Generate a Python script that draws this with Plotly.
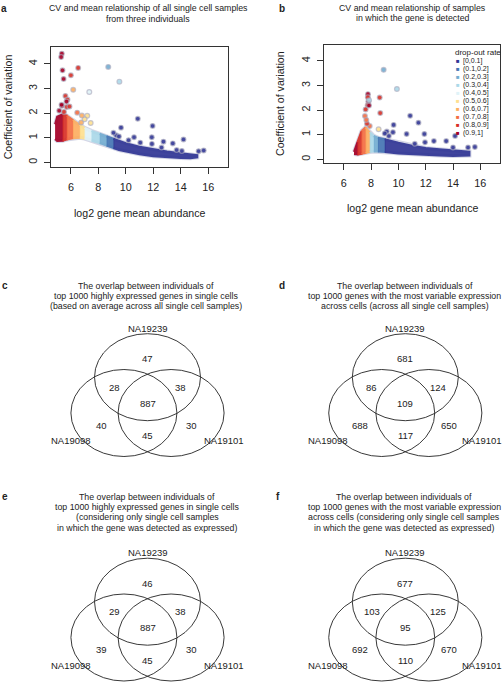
import plotly.graph_objects as go

W, H = 504, 685
FONT = "Liberation Sans, Arial, Helvetica, sans-serif"

# ---------------- data ----------------
BIN_LABELS = ["[0,0.1]", "(0.1,0.2]", "(0.2,0.3]", "(0.3,0.4]", "(0.4,0.5]",
              "(0.5,0.6]", "(0.6,0.7]", "(0.7,0.8]", "(0.8,0.9]", "(0.9,1]"]
BIN_COLORS = ["#313695", "#4575B4", "#74ADD1", "#ABD9E9", "#E0F3F8",
              "#FEE090", "#FDAE61", "#F46D43", "#D73027", "#A50026"]

# panel a: dense cloud of genes (edges of the band)
a_band_x = [4.85, 5.0, 5.4, 5.7, 6.15, 6.65, 7.0, 7.5, 8.1, 8.6, 9.1, 9.5, 10, 11, 12, 13, 14, 14.7, 15.2]
a_band_top = [1.55, 1.85, 1.95, 1.9, 1.72, 1.52, 1.4, 1.28, 1.16, 1.06, 0.96, 0.88, 0.78, 0.63, 0.52, 0.44, 0.37, 0.33, 0.29]
a_band_bottom = [0.95, 0.87, 0.88, 0.93, 0.98, 1.0, 0.97, 0.88, 0.78, 0.68, 0.58, 0.5, 0.43, 0.33, 0.25, 0.21, 0.18, 0.17, 0.2]
a_band_bin = [9, 9, 8, 7, 6, 5, 4, 3, 2, 1, 0, 0, 0, 0, 0, 0, 0, 0]
# panel a: scattered genes
a_pts_x = [10.87, 11.95, 9.65, 11.89, 10.6, 12.74, 13.42, 14.2, 11.9, 11.05, 14.08, 15.3, 15.67, 9.3, 9.1, 9.5, 10.2, 12.6, 13.7,
           8.72, 9.53, 7.34,
           5.34, 5.29, 5.39, 6.53, 5.47, 6.0, 6.17, 5.6, 5.75, 5.35, 5.7, 5.32, 5.68, 5.9, 6.46, 7.19, 7.44, 6.75, 7.0, 6.8, 5.15, 5.5]
a_pts_cv = [1.77, 1.48, 1.41, 1.02, 1.02, 0.84, 0.77, 0.93, 0.75, 0.8, 0.46, 0.45, 0.48, 1.1, 1.2, 1.05, 0.9, 0.6, 0.5,
            3.88, 3.28, 2.86,
            4.42, 4.28, 3.74, 3.84, 3.39, 3.54, 2.95, 2.7, 2.55, 2.3, 2.25, 2.34, 2.47, 2.27, 2.02, 1.89, 1.6, 1.62, 1.75, 1.9, 2.1, 2.05]
a_pts_bin = [0] * 19 + [2, 3, 4] + [9, 9, 9, 8, 9, 8, 6, 8, 8, 9, 8, 9, 9, 8, 7, 5, 5, 6, 5, 6, 9, 8]

# panel b
b_band_x = [6.75, 7.0, 7.3, 7.6, 7.9, 8.2, 8.5, 9.0, 9.5, 10, 11, 12, 13, 14, 14.7, 15.2]
b_band_top = [0.3, 0.7, 1.15, 1.3, 1.1, 0.95, 0.88, 0.82, 0.74, 0.67, 0.55, 0.46, 0.41, 0.37, 0.34, 0.31]
b_band_bottom = [0.22, 0.2, 0.22, 0.26, 0.3, 0.32, 0.32, 0.3, 0.27, 0.24, 0.2, 0.17, 0.15, 0.13, 0.13, 0.15]
b_band_bin = [9, 8, 7, 6, 3, 2, 1, 0, 0, 0, 0, 0, 0, 0, 0]
b_pts_x = [10.86, 11.47, 9.65, 9.15, 10.6, 11.9, 14.15, 12.6, 13.5, 11.2, 11.95, 14.0, 15.1, 15.6, 9.6, 9.3, 9.0,
           8.92, 9.89,
           7.77, 7.76, 7.8, 8.63, 7.75, 7.85, 7.6, 7.55, 8.67, 7.85, 7.9, 8.55, 7.7, 7.65]
b_pts_cv = [1.77, 1.49, 1.4, 1.13, 1.03, 1.03, 0.95, 0.74, 0.74, 0.63, 0.69, 0.48, 0.48, 0.5, 1.1, 0.95, 1.05,
            3.64, 2.86,
            2.65, 2.52, 2.35, 2.51, 2.2, 2.4, 2.03, 1.76, 1.88, 2.19, 1.35, 1.22, 1.45, 1.6]
b_pts_bin = [0] * 17 + [2, 3] + [9, 8, 9, 8, 8, 3, 8, 7, 8, 9, 7, 5, 8, 7]

# Venn diagrams: regions [A only, A&B, A&C, A&B&C, B only, B&C, C only]
VENN_SETS = ["NA19239", "NA19098", "NA19101"]
venn_c = [47, 28, 38, 887, 40, 45, 30]
venn_d = [681, 86, 124, 109, 688, 117, 650]
venn_e = [46, 29, 38, 887, 39, 45, 30]
venn_f = [677, 103, 125, 95, 692, 110, 670]

# ---------------- helpers ----------------
def px(x):
    return x / W

def py(y):
    return 1 - y / H

fig = go.Figure()
annotations = []
shapes = []


def add_band(xax, yax, bx, top, bot, bins):
    # faint halo around the whole cloud (point outlines in the original)
    fig.add_trace(go.Scatter(
        x=bx + bx[::-1], y=top + bot[::-1], mode="lines",
        line=dict(color="rgba(160,165,200,0.45)", width=4),
        xaxis=xax, yaxis=yax, showlegend=False, hoverinfo="skip"))
    i = 0
    n = len(bins)
    while i < n:
        j = i
        while j + 1 < n and bins[j + 1] == bins[i]:
            j += 1
        xs = bx[i:j + 2]
        ys_top = top[i:j + 2]
        ys_bot = bot[i:j + 2]
        col = BIN_COLORS[bins[i]]
        fig.add_trace(go.Scatter(
            x=xs + xs[::-1], y=ys_top + ys_bot[::-1], mode="lines",
            fill="toself", fillcolor=col, line=dict(color=col, width=2),
            opacity=0.92, xaxis=xax, yaxis=yax, showlegend=False, hoverinfo="skip"))
        i = j + 1


def add_points(xax, yax, xs, cvs, bins):
    fig.add_trace(go.Scatter(
        x=xs, y=cvs, mode="markers", xaxis=xax, yaxis=yax, showlegend=False,
        marker=dict(size=4.8, color=[BIN_COLORS[b] for b in bins], opacity=0.9,
                    line=dict(color="rgba(170,170,190,0.7)", width=1.2))))


add_band("x", "y", a_band_x, a_band_top, a_band_bottom, a_band_bin)
add_points("x", "y", a_pts_x, a_pts_cv, a_pts_bin)
add_band("x2", "y2", b_band_x, b_band_top, b_band_bottom, b_band_bin)
add_points("x2", "y2", b_pts_x, b_pts_cv, b_pts_bin)

axis_common = dict(showgrid=False, zeroline=False, showline=True, mirror=True,
                   linecolor="#333333", linewidth=1, ticks="outside", ticklen=6,
                   tickcolor="#333333", tickfont=dict(size=10.8, family=FONT, color="#222"))

layout = dict(
    width=W, height=H, margin=dict(l=0, r=0, t=0, b=0),
    paper_bgcolor="white", plot_bgcolor="white", showlegend=False,
    font=dict(family=FONT, color="#222"),
    xaxis=dict(domain=[px(50.7), px(228)], range=[4.53, 17.44], tickvals=[6, 8, 10, 12, 14, 16],
               anchor="y", ticklabelstandoff=4, **axis_common),
    yaxis=dict(domain=[py(167), py(47)], range=[-0.19, 4.69], tickvals=[0, 1, 2, 3, 4],
               tickangle=-90, anchor="x", ticklabelstandoff=2, **axis_common),
    xaxis2=dict(domain=[px(323.7), px(500)], range=[4.53, 17.44], tickvals=[6, 8, 10, 12, 14, 16],
                anchor="y2", ticklabelstandoff=4, **axis_common),
    yaxis2=dict(domain=[py(163), py(45)], range=[-0.15, 4.65], tickvals=[0, 1, 2, 3, 4],
                tickangle=-90, anchor="x2", ticklabelstandoff=2, **axis_common),
)

TITLE_SIZE = 8.8

# ---------------- text for scatter panels ----------------
def ann(x, y, text, size=TITLE_SIZE, xanchor="center", color="#222", bold=False, angle=0, pad=1):
    if bold:
        text = "<b>" + text + "</b>"
    annotations.append(dict(x=px(x), y=py(y), xref="paper", yref="paper", text=text,
                            showarrow=False, xanchor=xanchor, yanchor="middle", textangle=angle,
                            borderpad=pad,
                            font=dict(size=size, family=FONT, color=color)))

ann(4, 8, "a", size=10, bold=True)
ann(148, 8.3, "CV and mean relationship of all single cell samples")
ann(148, 18.8, "from three individuals")
ann(139.3, 212.7, "log2 gene mean abundance", size=10.6)
ann(8.3, 107, "Coefficient of variation", size=10.6, angle=-90)

ann(282, 8, "b", size=10, bold=True)
ann(412.5, 7.5, "CV and mean relationship of samples")
ann(412.5, 18.3, "in which the gene is detected")
ann(412, 208.3, "log2 gene mean abundance", size=10.6)
ann(280, 104, "Coefficient of variation", size=10.6, angle=-90)

# drop-out rate legend
ann(502, 52.3, "drop-out rate", size=8, xanchor="right", pad=0)
for k, (lab, col) in enumerate(zip(BIN_LABELS, BIN_COLORS)):
    yy = 61 + 8 * k
    ann(460.5, yy, "■", size=6, color=col, xanchor="right", pad=0)
    ann(462, yy, lab, size=7, xanchor="left", pad=0)

# ---------------- Venn diagrams ----------------
SX, SY = 53.0, 43.5
CIRCLE_CENTERS = [(0.0, 0.0), (-0.445, -0.823), (0.445, -0.823)]
REGION_POS = [(0.0, 0.42), (-0.63, -0.23), (0.62, -0.23), (0.0, -0.6),
              (-0.86, -1.1), (0.0, -1.35), (0.83, -1.1)]
SET_LABEL_POS = [(0.0, 1.12), (-1.45, -1.46), (1.44, -1.46)]
XR, YR = (-1.85, 1.85), (-1.9, 1.3)

venn_panels = [
    ("c", venn_c, 147.5, 377.2, 5, 285.5,
     ["The overlap between individuals of",
      "top 1000 highly expressed genes in single cells",
      "(based on average across all single cell samples)"], 146),
    ("d", venn_d, 405.3, 377.2, 282, 285.5,
     ["The overlap between individuals of",
      "top 1000 genes with the most variable expression",
      "across cells (across all single cell samples)"], 404.5),
    ("e", venn_e, 147.5, 601.7, 5, 496.5,
     ["The overlap between individuals of",
      "top 1000 highly expressed genes in single cells",
      "(considering only single cell samples",
      "in which the gene was detected as expressed)"], 147),
    ("f", venn_f, 405.3, 601.7, 278, 496.5,
     ["The overlap between individuals of",
      "top 1000 genes with the most variable expression",
      "across cells (considering only single cell samples",
      "in which the gene was detected as expressed)"], 404),
]

for idx, (letter, counts, cx, cy, lx, ty, lines, tx) in enumerate(venn_panels):
    n = idx + 3
    xa, ya = "x%d" % n, "y%d" % n
    layout["xaxis%d" % n] = dict(domain=[px(cx + XR[0] * SX), px(cx + XR[1] * SX)], range=list(XR),
                                 visible=False, anchor=ya)
    layout["yaxis%d" % n] = dict(domain=[py(cy - YR[0] * SY), py(cy - YR[1] * SY)], range=list(YR),
                                 visible=False, anchor=xa)
    for (ccx, ccy) in CIRCLE_CENTERS:
        shapes.append(dict(type="circle", xref=xa, yref=ya, x0=ccx - 1, x1=ccx + 1,
                           y0=ccy - 1, y1=ccy + 1, line=dict(color="#222", width=0.9)))
    for val, (rx, ry) in zip(counts, REGION_POS):
        annotations.append(dict(x=rx, y=ry, xref=xa, yref=ya, text=str(val), showarrow=False,
                                font=dict(size=9.5, family=FONT, color="#222")))
    for name, (rx, ry) in zip(VENN_SETS, SET_LABEL_POS):
        annotations.append(dict(x=rx, y=ry, xref=xa, yref=ya, text=name, showarrow=False,
                                font=dict(size=9.5, family=FONT, color="#222")))
    ann(lx, ty, letter, size=10, bold=True)
    for k, line in enumerate(lines):
        ann(tx, ty + 10.4 * k, line)

layout["annotations"] = annotations
layout["shapes"] = shapes
fig.update_layout(**layout)
fig.write_html("out.html", config={"displayModeBar": False},
               post_script="document.body.style.margin='0';document.body.style.overflow='hidden';")
